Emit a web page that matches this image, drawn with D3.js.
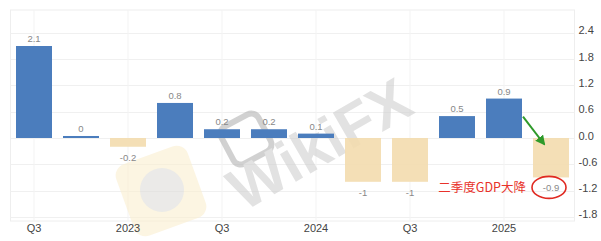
<!DOCTYPE html>
<html>
<head>
<meta charset="utf-8">
<script src="https://cdn.jsdelivr.net/npm/d3@7"></script>
<style>
  body { margin: 0; background: #fff; }
  svg { display: block; font-family: "Liberation Sans", Arial, sans-serif; }
</style>
</head>
<body>
<svg width="601" height="241"></svg>
<script>
// quarterly GDP growth, Q3 2022 .. Q2 2025
const quarters = ['2022Q3','2022Q4','2023Q1','2023Q2','2023Q3','2023Q4',
                  '2024Q1','2024Q2','2024Q3','2024Q4','2025Q1','2025Q2'];
const values = [2.1, 0, -0.2, 0.8, 0.2, 0.2, 0.1, -1, -1, 0.5, 0.9, -0.9];
const xTickLabels = {'2022Q3':'Q3','2023Q1':'2023','2023Q3':'Q3','2024Q1':'2024','2024Q3':'Q3','2025Q1':'2025'};
const yTicks = [2.4, 1.8, 1.2, 0.6, 0, -0.6, -1.2, -1.8];
const note = '二季度GDP大降';

const svg = d3.select('svg');
const plotL = 10.5, plotR = 574.5, plotT = 10, plotB = 221;

const x = d3.scaleBand().domain(quarters).range([plotL, plotR])
  .paddingInner(0.234).paddingOuter(0.117);
const y = d3.scaleLinear().domain([-1.895, 2.922]).range([plotB, plotT]);

// plain hyphen instead of d3's unicode minus
const hyph = s => s.replace('\u2212', '-');

// plot frame
svg.append('rect')
  .attr('x', plotL).attr('y', plotT)
  .attr('width', plotR - plotL).attr('height', plotB - plotT)
  .attr('fill', 'none').attr('stroke', '#eeeeee');

// grid
svg.append('g').selectAll('line').data(yTicks).join('line')
  .attr('x1', plotL).attr('x2', plotR)
  .attr('y1', d => Math.round(y(d)) + 0.5).attr('y2', d => Math.round(y(d)) + 0.5)
  .attr('stroke', '#f0f0f0');
svg.append('g').selectAll('line').data(Object.keys(xTickLabels)).join('line')
  .attr('x1', d => x(d) + x.bandwidth() / 2).attr('x2', d => x(d) + x.bandwidth() / 2)
  .attr('y1', plotT).attr('y2', plotB)
  .attr('stroke', '#f3f3f3');

// watermark
const wm = svg.append('g').attr('opacity', 0.6);
wm.append('rect').attr('x', 123).attr('y', 153).attr('width', 76).attr('height', 76).attr('rx', 12)
  .attr('transform', 'rotate(-20 161 191)').attr('fill', '#fbefcf');
wm.append('circle').attr('cx', 162).attr('cy', 190).attr('r', 22).attr('fill', '#deddd9');
wm.append('rect').attr('x', 225).attr('y', 118).attr('width', 42).attr('height', 42).attr('rx', 8)
  .attr('transform', 'rotate(-28 246 139)').attr('fill', 'none').attr('stroke', '#b4b4b4').attr('stroke-width', 6);
wm.append('text').attr('x', 330).attr('y', 162)
  .attr('transform', 'rotate(-30 330 162)')
  .attr('text-anchor', 'middle').attr('font-size', 60).attr('font-weight', 'bold')
  .attr('fill', '#cfcfcf').text('WikiFX');

// bars
svg.append('g').selectAll('rect').data(values).join('rect')
  .attr('x', (d, i) => x(quarters[i]))
  .attr('width', x.bandwidth())
  .attr('y', d => d >= 0 ? Math.min(y(d), y(0) - 2) : y(0))
  .attr('height', d => Math.max(Math.abs(y(d) - y(0)), 2))
  .attr('fill', d => d >= 0 ? '#4b7dbd' : '#f3dcae')
  .attr('fill-opacity', d => d >= 0 ? 1 : 0.9);

// value labels
svg.append('g').selectAll('text').data(values).join('text')
  .attr('x', (d, i) => x(quarters[i]) + x.bandwidth() / 2)
  .attr('y', d => d >= 0 ? Math.min(y(d), y(0) - 2) - 4 : y(d) + 14)
  .attr('text-anchor', 'middle')
  .attr('font-size', 9.5).attr('fill', '#888')
  .text(d => String(d));

// right axis
const yAxis = svg.append('g').attr('transform', `translate(${plotR},0)`)
  .call(d3.axisRight(y).tickValues(yTicks).tickSize(0).tickPadding(4)
    .tickFormat(d => hyph(d3.format('.1f')(d))));
yAxis.select('.domain').remove();
yAxis.selectAll('text').attr('font-size', 11).attr('fill', '#444').attr('dy', '0.1em');

// bottom axis
const xAxis = svg.append('g').attr('transform', `translate(0,${plotB})`)
  .call(d3.axisBottom(x).tickValues(Object.keys(xTickLabels)).tickSize(0).tickPadding(3)
    .tickFormat(d => xTickLabels[d]));
xAxis.select('.domain').remove();
xAxis.selectAll('text').attr('font-size', 11).attr('fill', '#444');

// annotation
const last = quarters[quarters.length - 1];
const cx = x(last) + x.bandwidth() / 2;
svg.append('ellipse')
  .attr('cx', cx - 2).attr('cy', y(values[values.length - 1]) + 10)
  .attr('rx', 17).attr('ry', 11)
  .attr('fill', 'none').attr('stroke', '#e02a22').attr('stroke-width', 1.6);
svg.append('text')
  .attr('x', cx - 25).attr('y', y(values[values.length - 1]) + 15)
  .attr('text-anchor', 'end').attr('font-size', 12.5).attr('fill', '#e8322a')
  .attr('font-family', '"Noto Sans CJK SC", sans-serif')
  .text(note);

svg.append('defs').append('marker')
  .attr('id', 'arrow').attr('viewBox', '0 0 10 10')
  .attr('refX', 8).attr('refY', 5).attr('markerWidth', 5).attr('markerHeight', 5)
  .attr('orient', 'auto')
  .append('path').attr('d', 'M0,0 L10,5 L0,10 Z').attr('fill', '#2e9a2a');
const prev = quarters[quarters.length - 2];
svg.append('line')
  .attr('x1', x(prev) + x.bandwidth() + 1).attr('y1', y(values[values.length - 2]) + 18)
  .attr('x2', cx - 7).attr('y2', y(0) + 6)
  .attr('stroke', '#2e9a2a').attr('stroke-width', 2)
  .attr('marker-end', 'url(#arrow)');
</script>
</body>
</html>
